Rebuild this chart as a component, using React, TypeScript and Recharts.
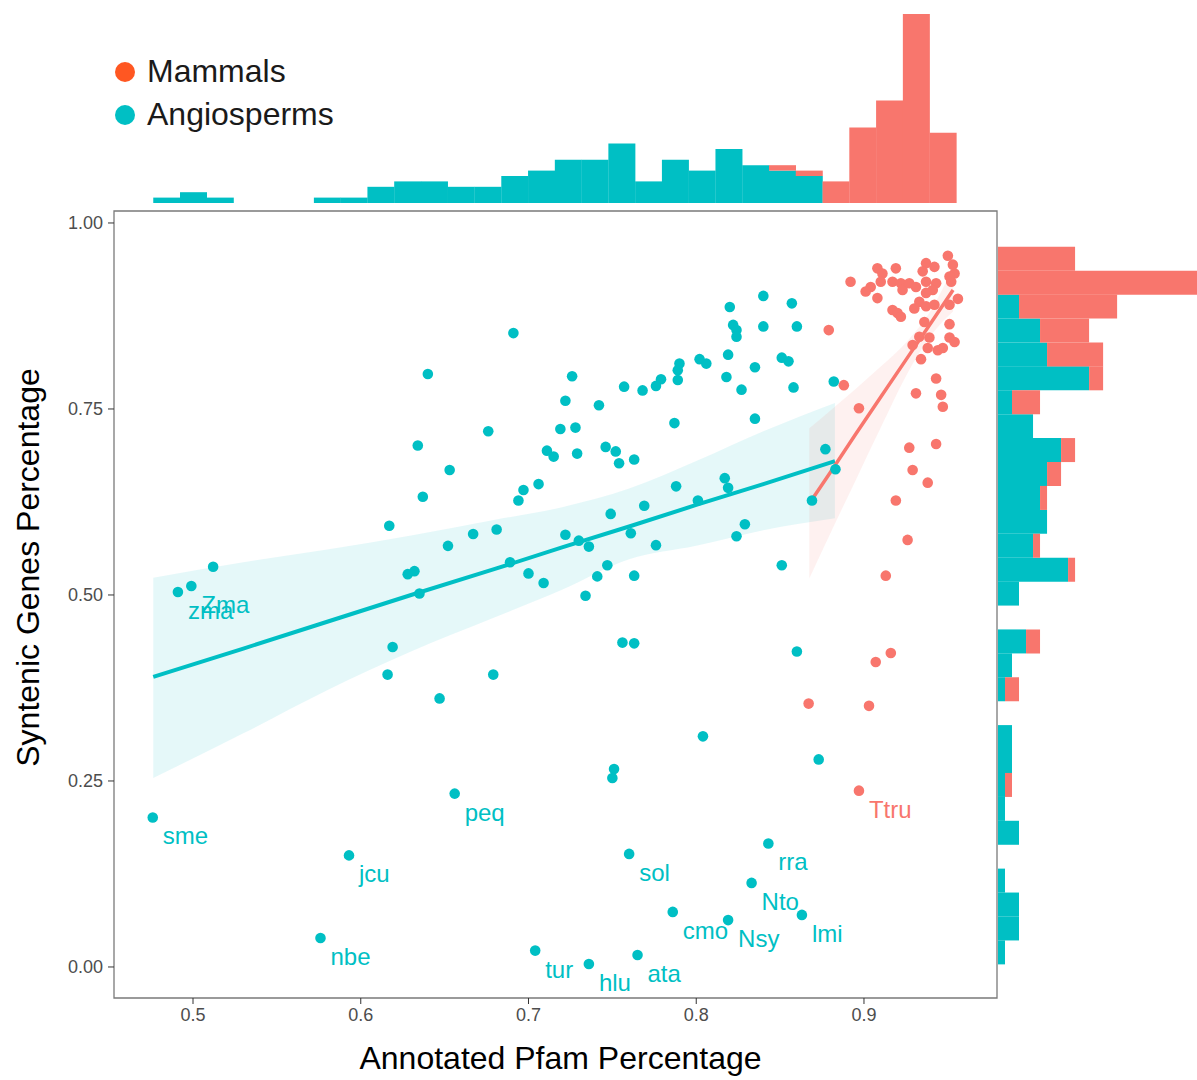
import React from 'react';
import { ComposedChart, Bar, Scatter, Line, Area, XAxis, YAxis, ReferenceArea, Legend } from 'recharts';

const TEAL = '#00BFC4';
const SALMON = '#F8766D';
const FONT = '"Liberation Sans", Arial, Helvetica, sans-serif';

// panel ranges
const X_MIN = 0.4529;
const X_MAX = 0.9793;
const Y_MIN = -0.0417;
const Y_MAX = 1.0161;
const X_TICKS = [0.5, 0.6, 0.7, 0.8, 0.9];
const Y_TICKS = [0, 0.25, 0.5, 0.75, 1];

const angiosperms = [
  { x: 0.840, y: 0.902 }, { x: 0.820, y: 0.887 }, { x: 0.857, y: 0.892 }, { x: 0.822, y: 0.863 },
  { x: 0.824, y: 0.856 }, { x: 0.824, y: 0.847 }, { x: 0.840, y: 0.861 }, { x: 0.860, y: 0.861 },
  { x: 0.691, y: 0.852 }, { x: 0.640, y: 0.797 }, { x: 0.726, y: 0.794 }, { x: 0.819, y: 0.823 },
  { x: 0.802, y: 0.817 }, { x: 0.806, y: 0.811 }, { x: 0.790, y: 0.811 }, { x: 0.789, y: 0.802 },
  { x: 0.789, y: 0.789 }, { x: 0.851, y: 0.819 }, { x: 0.855, y: 0.814 }, { x: 0.835, y: 0.806 },
  { x: 0.818, y: 0.793 }, { x: 0.827, y: 0.776 }, { x: 0.779, y: 0.790 }, { x: 0.776, y: 0.781 },
  { x: 0.768, y: 0.775 }, { x: 0.757, y: 0.780 }, { x: 0.858, y: 0.779 }, { x: 0.722, y: 0.761 },
  { x: 0.742, y: 0.755 }, { x: 0.676, y: 0.720 }, { x: 0.787, y: 0.731 }, { x: 0.835, y: 0.737 },
  { x: 0.719, y: 0.723 }, { x: 0.728, y: 0.725 }, { x: 0.634, y: 0.701 }, { x: 0.711, y: 0.694 },
  { x: 0.715, y: 0.686 }, { x: 0.729, y: 0.690 }, { x: 0.746, y: 0.699 }, { x: 0.752, y: 0.693 },
  { x: 0.754, y: 0.677 }, { x: 0.763, y: 0.682 }, { x: 0.653, y: 0.668 }, { x: 0.637, y: 0.632 },
  { x: 0.706, y: 0.649 }, { x: 0.697, y: 0.641 }, { x: 0.694, y: 0.627 }, { x: 0.617, y: 0.593 },
  { x: 0.788, y: 0.646 }, { x: 0.801, y: 0.627 }, { x: 0.817, y: 0.657 }, { x: 0.819, y: 0.644 },
  { x: 0.749, y: 0.609 }, { x: 0.769, y: 0.620 }, { x: 0.829, y: 0.595 }, { x: 0.824, y: 0.579 },
  { x: 0.667, y: 0.582 }, { x: 0.681, y: 0.588 }, { x: 0.652, y: 0.566 }, { x: 0.722, y: 0.581 },
  { x: 0.730, y: 0.573 }, { x: 0.736, y: 0.565 }, { x: 0.761, y: 0.583 }, { x: 0.776, y: 0.567 },
  { x: 0.689, y: 0.544 }, { x: 0.747, y: 0.540 }, { x: 0.851, y: 0.540 }, { x: 0.628, y: 0.528 },
  { x: 0.632, y: 0.532 }, { x: 0.700, y: 0.529 }, { x: 0.709, y: 0.516 }, { x: 0.741, y: 0.525 },
  { x: 0.763, y: 0.526 }, { x: 0.734, y: 0.499 }, { x: 0.635, y: 0.502 }, { x: 0.882, y: 0.787 },
  { x: 0.877, y: 0.696 }, { x: 0.883, y: 0.669 }, { x: 0.869, y: 0.627 }, { x: 0.756, y: 0.436 },
  { x: 0.763, y: 0.435 }, { x: 0.860, y: 0.424 }, { x: 0.619, y: 0.430 }, { x: 0.616, y: 0.393 },
  { x: 0.679, y: 0.393 }, { x: 0.647, y: 0.361 }, { x: 0.804, y: 0.310 }, { x: 0.873, y: 0.279 },
  { x: 0.751, y: 0.266 }, { x: 0.750, y: 0.254 }, { x: 0.512, y: 0.538 },
  { x: 0.656, y: 0.233, label: 'peq' }, { x: 0.476, y: 0.201, label: 'sme' },
  { x: 0.593, y: 0.150, label: 'jcu' }, { x: 0.576, y: 0.039, label: 'nbe' },
  { x: 0.760, y: 0.152, label: 'sol' }, { x: 0.843, y: 0.166, label: 'rra' },
  { x: 0.833, y: 0.113, label: 'Nto' }, { x: 0.786, y: 0.074, label: 'cmo' },
  { x: 0.819, y: 0.063, label: 'Nsy' }, { x: 0.863, y: 0.070, label: 'lmi' },
  { x: 0.704, y: 0.022, label: 'tur' }, { x: 0.736, y: 0.004, label: 'hlu' },
  { x: 0.765, y: 0.016, label: 'ata' }, { x: 0.499, y: 0.512, label: 'Zma' },
  { x: 0.491, y: 0.504, label: 'zma' },
];

const mammals = [
  { x: 0.950, y: 0.956 }, { x: 0.953, y: 0.944 }, { x: 0.937, y: 0.946 }, { x: 0.942, y: 0.941 },
  { x: 0.954, y: 0.932 }, { x: 0.919, y: 0.939 }, { x: 0.908, y: 0.939 }, { x: 0.911, y: 0.932 },
  { x: 0.935, y: 0.935 }, { x: 0.892, y: 0.921 }, { x: 0.904, y: 0.914 }, { x: 0.901, y: 0.908 },
  { x: 0.908, y: 0.899 }, { x: 0.910, y: 0.921 }, { x: 0.917, y: 0.921 }, { x: 0.922, y: 0.919 },
  { x: 0.923, y: 0.910 }, { x: 0.927, y: 0.919 }, { x: 0.931, y: 0.914 }, { x: 0.937, y: 0.921 },
  { x: 0.943, y: 0.919 }, { x: 0.941, y: 0.910 }, { x: 0.937, y: 0.906 }, { x: 0.952, y: 0.921 },
  { x: 0.951, y: 0.928 }, { x: 0.933, y: 0.894 }, { x: 0.930, y: 0.885 }, { x: 0.937, y: 0.888 },
  { x: 0.942, y: 0.890 }, { x: 0.951, y: 0.890 }, { x: 0.956, y: 0.898 }, { x: 0.917, y: 0.883 },
  { x: 0.920, y: 0.879 }, { x: 0.922, y: 0.874 }, { x: 0.936, y: 0.867 }, { x: 0.951, y: 0.864 },
  { x: 0.879, y: 0.856 }, { x: 0.933, y: 0.847 }, { x: 0.939, y: 0.846 }, { x: 0.951, y: 0.846 },
  { x: 0.954, y: 0.840 }, { x: 0.929, y: 0.836 }, { x: 0.938, y: 0.832 }, { x: 0.944, y: 0.829 },
  { x: 0.947, y: 0.832 }, { x: 0.934, y: 0.817 }, { x: 0.943, y: 0.791 }, { x: 0.946, y: 0.769 },
  { x: 0.947, y: 0.753 }, { x: 0.931, y: 0.771 }, { x: 0.888, y: 0.782 }, { x: 0.897, y: 0.751 },
  { x: 0.927, y: 0.698 }, { x: 0.943, y: 0.703 }, { x: 0.929, y: 0.668 }, { x: 0.938, y: 0.651 },
  { x: 0.919, y: 0.627 }, { x: 0.926, y: 0.574 }, { x: 0.913, y: 0.526 }, { x: 0.916, y: 0.422 },
  { x: 0.907, y: 0.410 }, { x: 0.867, y: 0.354 }, { x: 0.903, y: 0.351 },
  { x: 0.897, y: 0.237, label: 'Ttru' },
];

// lm fits with their 95% bands
const angioFit = [
  { x: 0.4763, fit: 0.390, lo: 0.254, hi: 0.523 },
  { x: 0.53, fit: 0.428, lo: 0.314, hi: 0.544 },
  { x: 0.58, fit: 0.464, lo: 0.372, hi: 0.561 },
  { x: 0.63, fit: 0.500, lo: 0.424, hi: 0.580 },
  { x: 0.68, fit: 0.535, lo: 0.470, hi: 0.601 },
  { x: 0.72, fit: 0.564, lo: 0.507, hi: 0.618 },
  { x: 0.76, fit: 0.592, lo: 0.548, hi: 0.643 },
  { x: 0.80, fit: 0.621, lo: 0.566, hi: 0.680 },
  { x: 0.84, fit: 0.649, lo: 0.587, hi: 0.720 },
  { x: 0.8827, fit: 0.680, lo: 0.603, hi: 0.758 },
];

const mammalFit = [
  { x: 0.8674, fit: 0.623, lo: 0.522, hi: 0.724 },
  { x: 0.880, fit: 0.665, lo: 0.583, hi: 0.748 },
  { x: 0.895, fit: 0.716, lo: 0.654, hi: 0.777 },
  { x: 0.910, fit: 0.766, lo: 0.725, hi: 0.807 },
  { x: 0.925, fit: 0.816, lo: 0.794, hi: 0.839 },
  { x: 0.940, fit: 0.866, lo: 0.849, hi: 0.883 },
  { x: 0.9531, fit: 0.910, lo: 0.881, hi: 0.940 },
];

// marginal histograms, 30 bins each
const X_BIN_START = 0.4763;
const X_BIN_WIDTH = 0.01596;
const topAngio = [1, 2, 1, 0, 0, 0, 1, 1, 3, 4, 4, 3, 3, 5, 6, 8, 8, 11, 4, 8, 6, 10, 7, 6, 5, 0, 0, 0, 0, 0];
const topMammal = [0, 0, 0, 0, 0, 0, 0, 0, 0, 0, 0, 0, 0, 0, 0, 0, 0, 0, 0, 0, 0, 0, 0, 1, 1, 4, 14, 19, 35, 13];

const Y_BIN_TOP = 0.9681;
const Y_BIN_WIDTH = 0.03215;
// listed from the top bin down
const sideAngio = [0, 0, 3, 6, 7, 13, 2, 5, 9, 7, 6, 7, 5, 10, 3, 0, 4, 2, 1, 0, 2, 2, 1, 1, 3, 0, 1, 3, 3, 1];
const sideMammal = [11, 29, 14, 7, 8, 2, 4, 0, 2, 2, 1, 0, 1, 1, 0, 0, 2, 0, 2, 0, 0, 0, 1, 0, 0, 0, 0, 0, 0, 0];

const LEGEND_ITEMS = [
  { name: 'Mammals', color: '#FF5722' },
  { name: 'Angiosperms', color: TEAL },
];

const topBins = topAngio.map((a, i) => ({
  x: X_BIN_START + (i + 0.5) * X_BIN_WIDTH,
  angio: a,
  mammal: topMammal[i],
}));

const sideBins = sideAngio.map((a, i) => ({
  y: Y_BIN_TOP - (i + 0.5) * Y_BIN_WIDTH,
  angio: a,
  mammal: sideMammal[i],
}));

const dotShape = (color: string) => (props: any) => (
  <circle cx={props.cx} cy={props.cy} r={5.3} fill={color} />
);

const labelShape = (color: string) => (props: any) => (
  <text x={props.cx + 10} y={props.cy + 27} fill={color} fontSize={24} fontFamily={FONT}>
    {props.payload.label}
  </text>
);

const renderXTitle = (props: any) => {
  const vb = props.viewBox || { x: 114, y: 998, width: 883, height: 82 };
  return (
    <text x={vb.x + vb.width / 2 + 5} y={vb.y + vb.height - 11} textAnchor="middle"
      fontSize={32} fontFamily={FONT} fill="#000">
      Annotated Pfam Percentage
    </text>
  );
};

const renderYTitle = (props: any) => {
  const vb = props.viewBox || { x: 0, y: 211, width: 114, height: 787 };
  const cx = vb.x + 28;
  const cy = vb.y + vb.height / 2 - 37;
  return (
    <text x={cx} y={cy} transform={`rotate(-90, ${cx}, ${cy})`} textAnchor="middle"
      dominantBaseline="central" fontSize={32} fontFamily={FONT} fill="#000">
      Syntenic Genes Percentage
    </text>
  );
};

const renderLegend = () => (
  <div style={{ fontFamily: FONT }}>
    {LEGEND_ITEMS.map((item) => (
      <div key={item.name} style={{ display: 'flex', alignItems: 'center', height: 43 }}>
        <span style={{ width: 20, height: 20, borderRadius: 10, background: item.color, marginRight: 12, flexShrink: 0 }} />
        <span style={{ fontSize: 32, lineHeight: '43px', color: '#1a1a1a' }}>{item.name}</span>
      </div>
    ))}
  </div>
);

const tickStyle = { fill: '#4D4D4D', fontSize: 18, fontFamily: FONT };

const App = () => {
  return (
    <div style={{ position: 'absolute', left: 0, top: 0, width: 1197, height: 1080, background: '#fff' }}>
      <div style={{ position: 'absolute', left: 0, top: 0 }}>
        <ComposedChart width={1197} height={1080} margin={{ top: 211, right: 200, bottom: 0, left: 0 }}>
          <XAxis type="number" dataKey="x" domain={[X_MIN, X_MAX]} allowDataOverflow ticks={X_TICKS}
            interval={0} height={82} axisLine={false} tickSize={6} tickMargin={4}
            tickLine={{ stroke: '#333' }} tick={tickStyle} tickFormatter={(v) => String(v)}
            label={renderXTitle} />
          <YAxis type="number" dataKey="y" domain={[Y_MIN, Y_MAX]} allowDataOverflow ticks={Y_TICKS}
            interval={0} width={114} axisLine={false} tickSize={6} tickMargin={5}
            tickLine={{ stroke: '#333' }} tick={tickStyle} tickFormatter={(v) => Number(v).toFixed(2)}
            label={renderYTitle} />
          <Area data={angioFit} dataKey={(d: any) => [d.lo, d.hi]} type="monotone" stroke="none"
            fill={TEAL} fillOpacity={0.1} isAnimationActive={false} />
          <Area data={mammalFit} dataKey={(d: any) => [d.lo, d.hi]} type="monotone" stroke="none"
            fill={SALMON} fillOpacity={0.1} isAnimationActive={false} />
          <Scatter name="Angiosperms" data={angiosperms} shape={dotShape(TEAL)} isAnimationActive={false} />
          <Scatter name="Mammals" data={mammals} shape={dotShape(SALMON)} isAnimationActive={false} />
          <Line data={angioFit} dataKey="fit" type="linear" stroke={TEAL} strokeWidth={4} dot={false}
            isAnimationActive={false} />
          <Line data={mammalFit} dataKey="fit" type="linear" stroke={SALMON} strokeWidth={3.5} dot={false}
            isAnimationActive={false} />
          <Scatter data={angiosperms.filter((d) => d.label)} shape={labelShape(TEAL)} isAnimationActive={false} />
          <Scatter data={mammals.filter((d) => d.label)} shape={labelShape(SALMON)} isAnimationActive={false} />
          <ReferenceArea x1={X_MIN} x2={X_MAX} y1={Y_MIN} y2={Y_MAX} fill="none" fillOpacity={0}
            stroke="#7a7a7a" strokeWidth={1.3} ifOverflow="visible" />
          <Legend layout="vertical" align="center" verticalAlign="middle" content={renderLegend}
            wrapperStyle={{ left: 115, top: 50, width: 280, height: 90 }} />
        </ComposedChart>
      </div>

      <div style={{ position: 'absolute', left: 0, top: 0 }}>
        <ComposedChart width={1197} height={211} data={topBins} barCategoryGap={0} barGap={0}
          margin={{ top: 14, right: 200, bottom: 8, left: 114 }}>
          <XAxis type="number" dataKey="x" domain={[X_MIN, X_MAX]} allowDataOverflow hide />
          <YAxis type="number" domain={[0, 35]} allowDataOverflow hide />
          <Bar dataKey="angio" stackId="h" fill={TEAL} isAnimationActive={false} />
          <Bar dataKey="mammal" stackId="h" fill={SALMON} isAnimationActive={false} />
        </ComposedChart>
      </div>

      <div style={{ position: 'absolute', left: 998, top: 0 }}>
        <ComposedChart layout="vertical" width={199} height={1080} data={sideBins} barCategoryGap={0}
          barGap={0} margin={{ top: 211, right: 0, bottom: 82, left: 0 }}>
          <YAxis type="number" dataKey="y" domain={[Y_MIN, Y_MAX]} allowDataOverflow reversed hide />
          <XAxis type="number" domain={[0, 28.4]} allowDataOverflow hide />
          <Bar dataKey="angio" stackId="v" fill={TEAL} isAnimationActive={false} />
          <Bar dataKey="mammal" stackId="v" fill={SALMON} isAnimationActive={false} />
        </ComposedChart>
      </div>
    </div>
  );
};

export default App;
